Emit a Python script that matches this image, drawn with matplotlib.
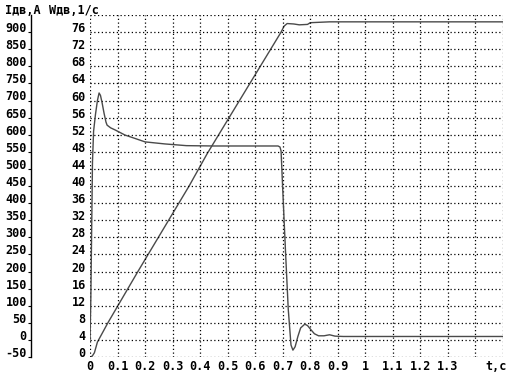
import matplotlib
matplotlib.use("Agg")
import matplotlib.pyplot as plt
import numpy as np

# speed W (1/s) vs time
t_w = [0, 0.008, 0.016, 0.027, 0.065, 0.174, 0.36, 0.425, 0.694, 0.705,
       0.716, 0.74, 0.76, 0.79, 0.80, 0.87, 1.5]
w = [0, 0.2, 1.0, 3.5, 8, 20, 40, 47.5, 76, 77.4,
     78.0, 77.9, 77.7, 77.8, 78.2, 78.4, 78.4]

# current I (A) vs time
t_i = [0, 0.003, 0.006, 0.009, 0.013, 0.02, 0.027, 0.033, 0.038, 0.044,
       0.051, 0.058, 0.062, 0.075, 0.091, 0.127, 0.16, 0.2, 0.272, 0.35,
       0.45, 0.55, 0.65, 0.683, 0.69, 0.694, 0.70, 0.71, 0.72, 0.73,
       0.737, 0.745, 0.755, 0.765, 0.78, 0.79, 0.80, 0.815, 0.83, 0.85,
       0.87, 0.89, 0.92, 1.0, 1.5]
cur = [0, 120, 320, 520, 610, 660, 700, 722, 715, 693,
       663, 637, 628, 620, 614, 599, 590, 579, 573, 568,
       567, 567, 567, 567, 564, 552, 440, 260, 90, -15,
       -30, -20, 10, 35, 46, 42, 32, 18, 12, 12,
       15, 11, 10, 10, 10]

w_ticks = list(range(0, 80, 4))
i_ticks = list(range(-50, 901, 50))
t_ticks = [0, 0.1, 0.2, 0.3, 0.4, 0.5, 0.6, 0.7, 0.8, 0.9, 1.0, 1.1, 1.2, 1.3, 1.476]
t_labels = ["0", "0.1", "0.2", "0.3", "0.4", "0.5", "0.6", "0.7", "0.8",
            "0.9", "1", "1.1", "1.2", "1.3", "t,c"]

FONT = dict(family="DejaVu Sans Mono", weight="bold", size=8.5)
LINE = "#4a4a4a"

fig = plt.figure(figsize=(5.15, 3.76), dpi=100)
ax = fig.add_axes([90 / 515, 19 / 376, 413 / 515, 342 / 376])

ax.plot(t_w, w, color=LINE, lw=1.0)
ax.set_xlim(0, 1.5)
ax.set_ylim(0, 80)

# grid incl. borders
for x in np.arange(0, 1.51, 0.1):
    ax.axvline(x, color="black", lw=0.9, ls=(0, (1, 2)))
for y in range(0, 81, 4):
    ax.axhline(y, color="black", lw=0.9, ls=(0, (1, 2)))
for s in ax.spines.values():
    s.set_visible(False)

ax.set_xticks(t_ticks)
ax.set_xticklabels(t_labels, **FONT)
ax.set_yticks(w_ticks)
ax.set_yticklabels([str(v) for v in w_ticks], **FONT)
ax.tick_params(length=0)
ax.tick_params(axis="x", pad=2)
ax.tick_params(axis="y", pad=3)
plt.setp(ax.get_yticklabels(), va="baseline")

# current axis on the far left
ax2 = ax.twinx()
ax2.set_ylim(-50, 950)
ax2.plot(t_i, cur, color=LINE, lw=1.0)
for name in ("top", "right", "bottom"):
    ax2.spines[name].set_visible(False)
ax2.spines["left"].set_visible(True)
ax2.spines["left"].set_position(("axes", -59 / 413))
ax2.spines["left"].set_linewidth(1.0)
ax2.yaxis.set_ticks_position("left")
ax2.yaxis.set_label_position("left")
ax2.set_yticks(i_ticks)
ax2.set_yticklabels([str(v) for v in i_ticks], **FONT)
ax2.tick_params(axis="y", direction="out", length=2, pad=1)
plt.setp(ax2.get_yticklabels(), va="baseline")

fig.text(5 / 515, 1 - 10 / 376, "Iдв,A", ha="left", va="center", **FONT)
fig.text(49 / 515, 1 - 10 / 376, "Wдв,1/с", ha="left", va="center", **FONT)

fig.savefig("out.png", dpi=100)
